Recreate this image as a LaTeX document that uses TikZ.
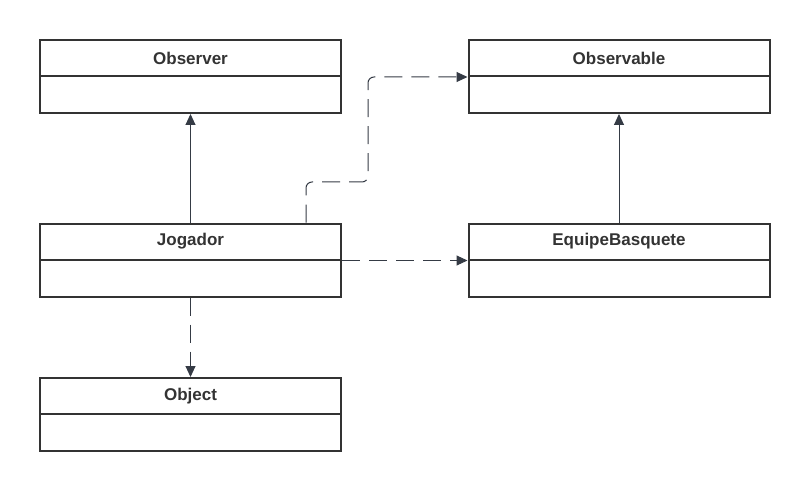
\documentclass[tikz,border=0pt]{standalone}
\usepackage{fontspec}
\setmainfont{Liberation Sans}
\usetikzlibrary{positioning, arrows.meta}
\definecolor{boxline}{HTML}{333333}
\definecolor{arrowline}{HTML}{353B45}
\tikzset{>={Triangle[length=11pt,width=10pt]}}
\tikzset{classhead/.style={draw=boxline, line width=2pt, minimum width=301pt, minimum height=36pt,
    inner sep=0pt, font=\fontsize{17}{20}\selectfont\bfseries, text=boxline}}
\tikzset{classbody/.style={draw=boxline, line width=2pt, minimum width=301pt, minimum height=37pt, inner sep=0pt}}
\tikzset{inherit/.style={->, draw=arrowline, fill=arrowline, line width=1pt}}
\tikzset{depend/.style={->, draw=arrowline, line width=1pt, dash pattern=on 18pt off 9pt}}

\begin{document}
\begin{tikzpicture}[x=1pt, y=-1pt]
    \useasboundingbox (0,0) rectangle (809,492);
    % classes
    \node[classhead] (observer) at (190.5,58) {Observer};
    \node[classbody, below=-2pt of observer] (observerbody) {};
    \node[classhead] (observable) at (619,58) {Observable};
    \node[classbody, below=-2pt of observable] (observablebody) {};
    \node[classhead] (jogador) at (190.5,241.5) {Jogador};
    \node[classbody, below=-2pt of jogador] (jogadorbody) {};
    \node[classhead] (equipe) at (619,241.5) {EquipeBasquete};
    \node[classbody, below=-2pt of equipe] (equipebody) {};
    \node[classhead] (object) at (190.5,396) {Object};
    \node[classbody, below=-2pt of object] (objectbody) {};
    % relations
    \coordinate (bend) at (368,182);
    \draw[inherit] (jogador.north) -- (observerbody.south);
    \draw[inherit] (equipe.north) -- (observablebody.south);
    \draw[depend, rounded corners=6pt] ([xshift=-36pt]jogador.north east) |- (bend) |- (observable.south west);
    \draw[depend] (jogador.south east) -- (equipe.south west);
    \draw[depend] (jogadorbody.south) -- (object.north);
\end{tikzpicture}
\end{document}
